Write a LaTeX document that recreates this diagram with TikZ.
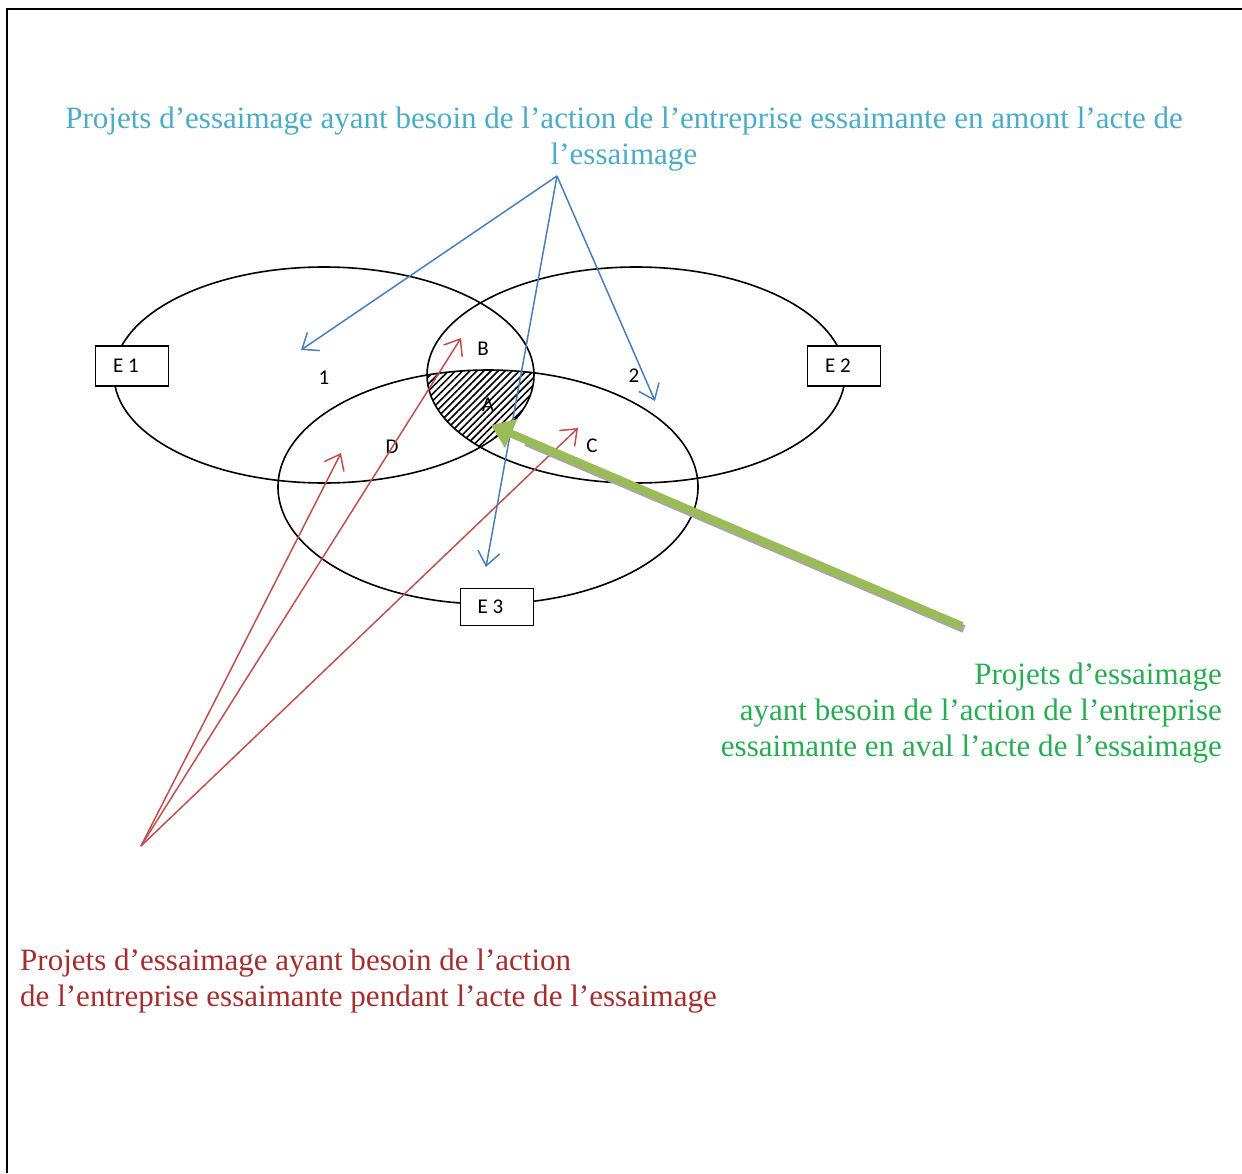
\documentclass[tikz,border=0pt]{standalone}
\usepackage{fontspec}
\setmainfont{Liberation Serif}
\newfontfamily\lblfont{Carlito}
\usetikzlibrary{arrows.meta,patterns.meta,calc}
\definecolor{topblue}{RGB}{75,172,198}
\definecolor{arrblue}{RGB}{74,126,187}
\definecolor{arrred}{RGB}{192,80,77}
\definecolor{txtred}{RGB}{165,45,45}
\definecolor{txtgreen}{RGB}{40,172,82}
\definecolor{olive}{RGB}{155,187,89}
\begin{document}
\begin{tikzpicture}[x=1pt,y=-1pt,
  ell/.style={draw,line width=1.6pt},
  ebox/.style={draw,fill=white,line width=1.6pt,minimum width=73pt,minimum height=40pt,font=\lblfont\fontsize{21}{25}\selectfont},
  lbl/.style={font=\lblfont\fontsize{21}{25}\selectfont},
  note/.style={inner sep=0pt,font=\fontsize{31.05}{35.7}\selectfont},
  bluearr/.style={draw=arrblue,line width=1.5pt,-{Straight Barb[length=14pt,width=22pt]}},
  redarr/.style={draw=arrred,line width=1.5pt,-{Straight Barb[length=14pt,width=22pt]}}]
\useasboundingbox (0,0) rectangle (1242,1173);
\path[draw,line width=1.5pt] (1242,9) -- (7,9) -- (7,1173);

\begin{scope}
\clip (324,375) ellipse [x radius=210pt,y radius=108pt];
\clip (636,375) ellipse [x radius=209pt,y radius=108pt];
\fill[pattern={Lines[angle=45,distance=5pt,line width=1.6pt]}] (488,487) ellipse [x radius=210pt,y radius=117pt];
\end{scope}
\path[ell] (324,375) ellipse [x radius=210pt,y radius=108pt];
\path[ell] (636,375) ellipse [x radius=209pt,y radius=108pt];
\path[ell] (488,487) ellipse [x radius=210pt,y radius=117pt];

\node[ebox] (e1) at (132,366) {E 1\hspace*{12pt}};
\node[ebox] (e2) at (844,366) {E 2\hspace*{12pt}};
\node[ebox,minimum height=37pt] (e3) at (497,607) {E 3\hspace*{13pt}};

\node[lbl] (z1) at (324,378) {1};
\node[lbl] (z2) at (634,376) {2};
\node[lbl] (b) at (483,349) {B};
\node[lbl] (a) at (488,405) {A};
\node[lbl] (d) at (392,447) {D};
\node[lbl] (c) at (592,446) {C};

\node[note,text=topblue,align=center,anchor=north] (amont) at (624,107) {Projets d’essaimage ayant besoin de l’action de l’entreprise essaimante en amont l’acte de\\l’essaimage};
\node[note,text=txtgreen,align=right,anchor=north east] (aval) at (1222,663) {Projets d’essaimage\\ayant besoin de l’action de l’entreprise\\essaimante en aval l’acte de l’essaimage};
\node[note,text=txtred,align=left,anchor=north west] (pendant) at (20,949) {Projets d’essaimage ayant besoin de l’action\\de l’entreprise essaimante pendant l’acte de l’essaimage};

\coordinate (bsrc) at (557,176);
\coordinate (b1) at (301,350);
\coordinate (b2) at (486,567);
\coordinate (b3) at (655,401);
\path[bluearr] (bsrc) -- (b1);
\path[bluearr] (bsrc) -- (b2);
\path[bluearr] (bsrc) -- (b3);

\coordinate (rsrc) at (141,846);
\coordinate (r1) at (341,453);
\coordinate (r2) at (461,338);
\coordinate (r3) at (578,428);
\path[redarr] (rsrc) -- (r1);
\path[redarr] (rsrc) -- (r2);
\path[redarr] (rsrc) -- (r3);

\coordinate (gsrc) at (962,626);
\coordinate (gtip) at (491,425);
\path[draw=gray!70,line width=8pt] ($(gsrc)+(2,3)$) -- ($($(gtip)!0.07!(gsrc)$)+(2,3)$);
\path[draw=olive,line width=8pt,-{Triangle[length=22pt,width=30pt]}] (gsrc) -- (gtip);
\end{tikzpicture}
\end{document}
